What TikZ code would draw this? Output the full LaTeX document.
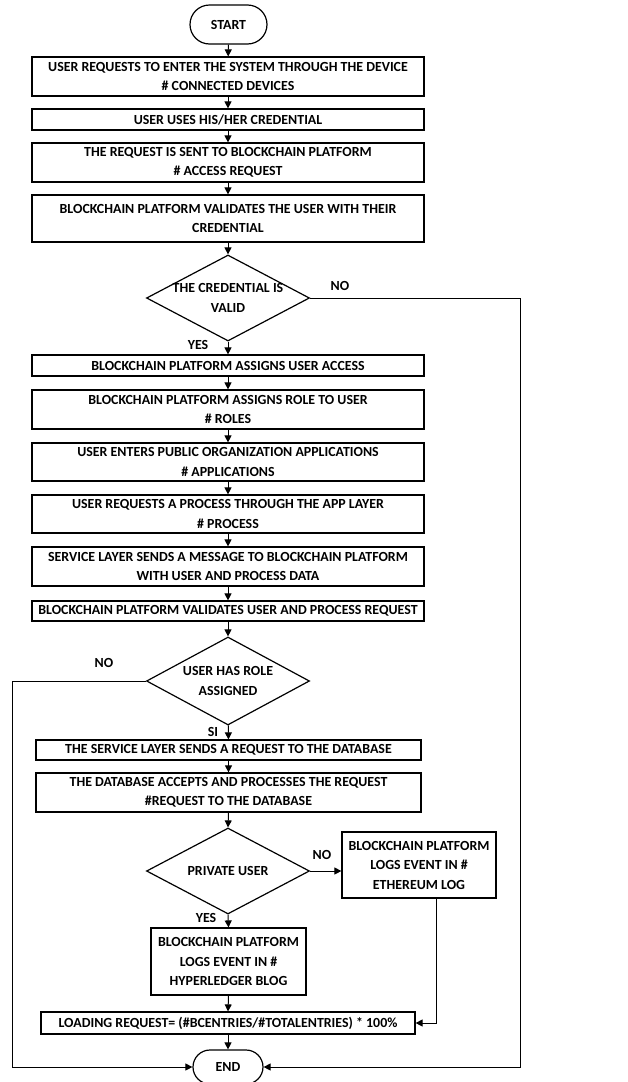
\documentclass[tikz,border=0pt]{standalone}
\usepackage{fontspec}
\setmainfont{Carlito}
\usetikzlibrary{arrows.meta,shapes.geometric,shapes.misc}

\tikzset{
    every node/.style={font=\fontsize{13.9}{19.5}\selectfont\bfseries},
    box/.style={draw, line width=1.2pt, align=center, inner sep=0pt, minimum width=392pt, minimum height=39pt},
    terminal/.style={draw, line width=1.2pt, rounded rectangle, inner sep=0pt, minimum width=77pt, minimum height=39pt},
    decision/.style={draw, line width=1.2pt, diamond, inner sep=0pt, minimum width=163pt, minimum height=86pt},
    flow/.style={line width=1pt, -{Triangle[length=7pt, width=7pt]}}
}

\begin{document}
\begin{tikzpicture}[x=1pt, y=-1pt]

    \useasboundingbox (0,0) rectangle (627,1082);

    % Main column
    \node[terminal] (start) at (228.5,24.5) {START};
    \node[box] (devices) at (228,76.5) {USER REQUESTS TO ENTER THE SYSTEM THROUGH THE DEVICE\\\# CONNECTED DEVICES};
    \node[box, minimum height=21pt] (credential) at (228,119.5) {USER USES HIS/HER CREDENTIAL};
    \node[box] (request) at (228,162.5) {THE REQUEST IS SENT TO BLOCKCHAIN PLATFORM\\\# ACCESS REQUEST};
    \node[box, minimum height=47pt] (validate) at (228,218.5) {BLOCKCHAIN PLATFORM VALIDATES THE USER WITH THEIR\\CREDENTIAL};
    \node[decision, label={[align=center]center:THE CREDENTIAL IS\\VALID}] (valid) at (228,298) {};
    \node[box, minimum height=21pt] (access) at (228,365.5) {BLOCKCHAIN PLATFORM ASSIGNS USER ACCESS};
    \node[box] (roles) at (228,409.5) {BLOCKCHAIN PLATFORM ASSIGNS ROLE TO USER\\\# ROLES};
    \node[box, minimum height=38pt] (apps) at (228,462) {USER ENTERS PUBLIC ORGANIZATION APPLICATIONS\\\# APPLICATIONS};
    \node[box, minimum height=38pt] (process) at (228,514) {USER REQUESTS A PROCESS THROUGH THE APP LAYER\\\# PROCESS};
    \node[box] (message) at (228,566.5) {SERVICE LAYER SENDS A MESSAGE TO BLOCKCHAIN PLATFORM\\WITH USER AND PROCESS DATA};
    \node[box, minimum height=20pt] (check) at (228,611) {BLOCKCHAIN PLATFORM VALIDATES USER AND PROCESS REQUEST};
    \node[decision, minimum height=88pt, label={[align=center]center:USER HAS ROLE\\ASSIGNED}] (hasrole) at (228,681) {};
    \node[box, minimum width=385pt, minimum height=20pt] (service) at (228.5,750) {THE SERVICE LAYER SENDS A REQUEST TO THE DATABASE};
    \node[box, minimum width=385pt] (database) at (228.5,792.5) {THE DATABASE ACCEPTS AND PROCESSES THE REQUEST\\\#REQUEST TO THE DATABASE};
    \node[decision, label={center:PRIVATE USER}] (private) at (228,871) {};
    \node[box, minimum width=154pt, minimum height=66pt] (ethereum) at (419,865) {BLOCKCHAIN PLATFORM\\LOGS EVENT IN \#\\ETHEREUM LOG};
    \node[box, minimum width=155pt, minimum height=67pt] (hyperledger) at (228.5,961.5) {BLOCKCHAIN PLATFORM\\LOGS EVENT IN \#\\HYPERLEDGER BLOG};
    \node[box, minimum width=374pt, minimum height=22pt] (loading) at (228,1023) {LOADING REQUEST= (\#BCENTRIES/\#TOTALENTRIES) * 100\%};
    \node[terminal, minimum width=70pt, minimum height=34pt] (end) at (228,1067) {END};

    % Branch labels
    \node (no1) at (340,286) {NO};
    \node (yes1) at (198,345) {YES};
    \node (no2) at (104,663) {NO};
    \node (si) at (213,732) {SI};
    \node (no3) at (322,855) {NO};
    \node (yes3) at (206,918) {YES};

    % Rails
    \coordinate (rightrail) at (520,0);
    \coordinate (leftrail) at (12,0);

    % Straight arrows
    \draw[flow] (start) -- (devices);
    \draw[flow] (devices) -- (credential);
    \draw[flow] (credential) -- (request);
    \draw[flow] (request) -- (validate);
    \draw[flow] (validate) -- (valid);
    \draw[flow] (valid) -- (access);
    \draw[flow] (access) -- (roles);
    \draw[flow] (roles) -- (apps);
    \draw[flow] (apps) -- (process);
    \draw[flow] (process) -- (message);
    \draw[flow] (message) -- (check);
    \draw[flow] (check) -- (hasrole);
    \draw[flow] (hasrole) -- (service);
    \draw[flow] (service) -- (database);
    \draw[flow] (database.south) -- (private.north);
    \draw[flow] (private.south) -- (hyperledger.north);
    \draw[flow] (hyperledger.south) -- (loading.north);
    \draw[flow] (loading.south) -- (end.north);

    % Side branches
    \draw[flow] (private.east) -- (private.east -| ethereum.west);
    \draw[flow] ([xshift=17pt]ethereum.south) |- (loading.east);
    \draw[flow] (valid.east) -- (valid.east -| rightrail) |- (end.east);
    \draw[flow] (hasrole.west) -- (hasrole.west -| leftrail) |- (end.west);

\end{tikzpicture}
\end{document}
